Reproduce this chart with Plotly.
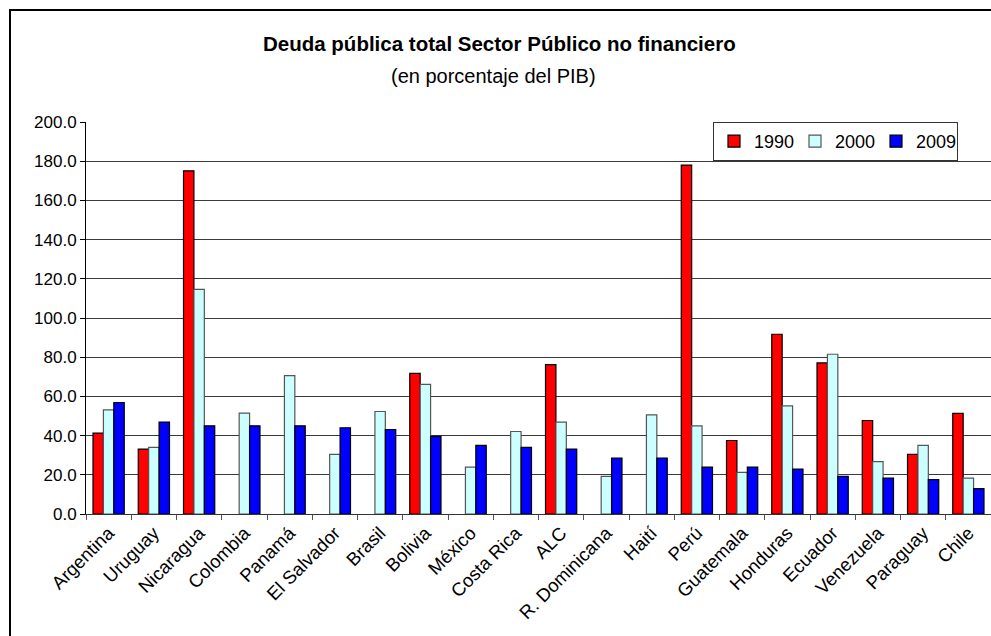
import plotly.graph_objects as go

# Public debt of the non-financial public sector, % of GDP
countries = ["Argentina", "Uruguay", "Nicaragua", "Colombia", "Panamá", "El Salvador",
             "Brasil", "Bolivia", "México", "Costa Rica", "ALC", "R. Dominicana",
             "Haití", "Perú", "Guatemala", "Honduras", "Ecuador", "Venezuela",
             "Paraguay", "Chile"]

debt_1990 = [41.3, 33.1, 175.1, None, None, None, None, 71.7, None, None, 76.2, None,
             None, 178.0, 37.5, 91.7, 77.1, 47.7, 30.4, 51.3]
debt_2000 = [53.1, 34.0, 114.6, 51.5, 70.6, 30.4, 52.3, 66.1, 23.9, 42.1, 46.9, 19.2,
             50.6, 45.0, 21.2, 55.2, 81.5, 26.7, 35.0, 18.3]
debt_2009 = [56.9, 46.9, 45.0, 45.0, 45.0, 44.0, 43.1, 39.6, 35.0, 34.0, 33.1, 28.5,
             28.5, 23.9, 23.9, 22.9, 19.2, 18.3, 17.5, 12.9]

series = [
    ("1990", debt_1990, "#FF0000", "#000000"),
    ("2000", debt_2000, "#CCFFFF", "#555555"),
    ("2009", debt_2009, "#0000FF", "#000000"),
]

FONT = "Liberation Sans, Arial, sans-serif"

fig = go.Figure()
for name, vals, fill, edge in series:
    fig.add_trace(go.Bar(
        name=name, x=countries, y=vals,
        marker=dict(color=fill, line=dict(color=edge, width=1.2)),
    ))

W, H = 991, 636
L, R, T, B = 86, 0, 122, 122
pw, ph = W - L - R, H - T - B


def px_to_paper(x, y):
    return (x - L) / pw, 1 + (T - y) / ph


tx, ty = px_to_paper(499, 44)
sx, sy = px_to_paper(493, 76)
bx0, by1 = px_to_paper(10, 10)
lx, ly = px_to_paper(713, 122)

fig.update_layout(
    width=W, height=H,
    margin=dict(l=L, r=R, t=T, b=B),
    paper_bgcolor="white", plot_bgcolor="white",
    font=dict(family=FONT, color="black"),
    barmode="group", bargap=0.31, bargroupgap=0,
    showlegend=True,
    legend=dict(
        orientation="h", x=lx, y=ly, xanchor="left", yanchor="top",
        bgcolor="white", bordercolor="#333333", borderwidth=1,
        font=dict(size=18, family=FONT), traceorder="normal",
        itemwidth=30, entrywidth=36, entrywidthmode="pixels",
    ),
    annotations=[
        dict(text="<b>Deuda pública total Sector Público no financiero</b>",
             xref="paper", yref="paper", x=tx, y=ty, xanchor="center", yanchor="middle",
             showarrow=False, font=dict(size=20.5, family=FONT, color="black")),
        dict(text="(en porcentaje del PIB)",
             xref="paper", yref="paper", x=sx, y=sy, xanchor="center", yanchor="middle",
             showarrow=False, font=dict(size=20, family=FONT, color="black")),
    ],
    shapes=[
        dict(type="rect", xref="paper", yref="paper", x0=bx0, y0=-0.5, x1=1.1, y1=by1,
             line=dict(color="black", width=2), fillcolor="rgba(0,0,0,0)", layer="below"),
    ],
)

fig.update_yaxes(
    range=[0, 200], dtick=20, tickformat=".1f",
    showgrid=True, gridcolor="#3a3a3a", gridwidth=1,
    showline=True, linecolor="black", linewidth=1,
    ticks="outside", ticklen=5, tickcolor="black",
    tickfont=dict(size=17, family=FONT, color="black"),
    zeroline=False,
)
fig.update_xaxes(
    tickangle=-45, tickson="boundaries",
    ticks="outside", ticklen=5, tickcolor="#555555",
    showline=True, linecolor="#333333", linewidth=1,
    tickfont=dict(size=18.5, family=FONT, color="black"),
    showgrid=False,
)

fig.write_html("out.html")
